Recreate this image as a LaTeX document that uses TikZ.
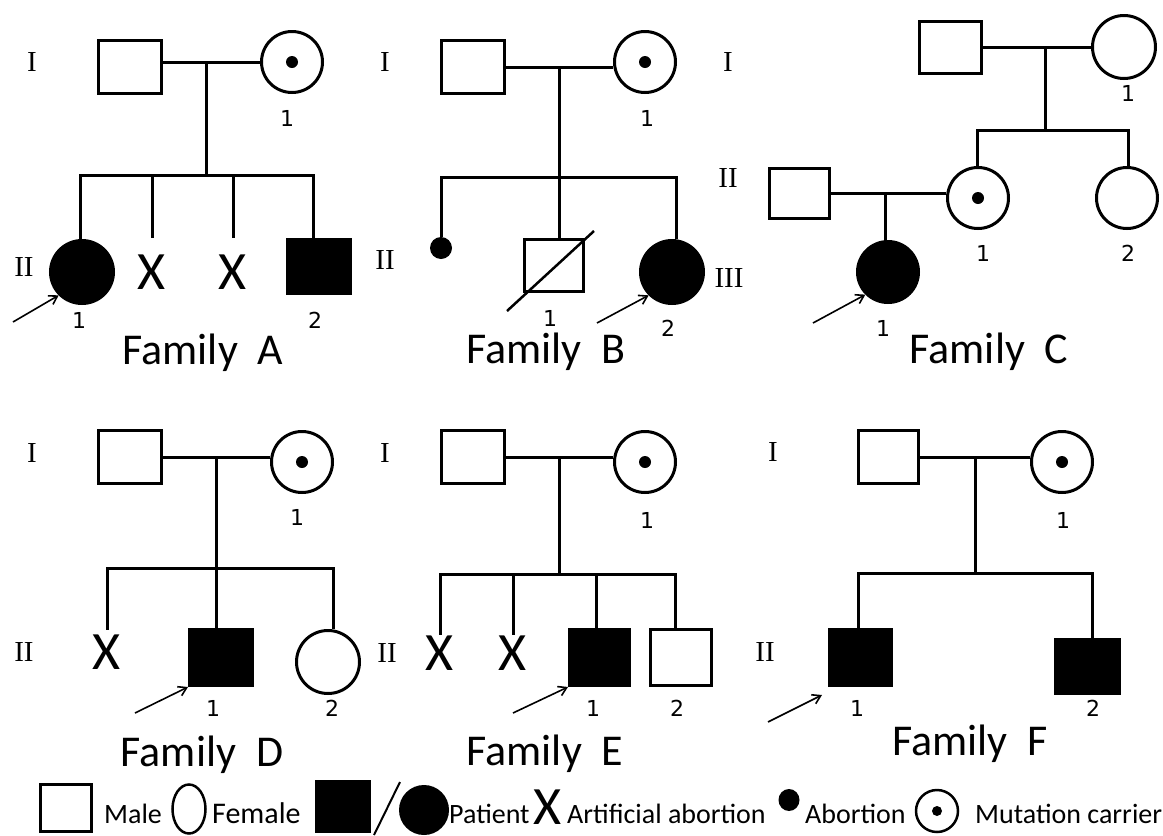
\documentclass[tikz,border=0pt]{standalone}
\usepackage{fontspec}
\newfontfamily\calfont{Carlito}
\newfontfamily\romfont{Liberation Serif}
\newfontfamily\digfont{DejaVu Sans}
\usetikzlibrary{arrows.meta,calc,shapes.geometric}
\tikzset{
  male/.style={draw,line width=3pt,rectangle,minimum width=63pt,minimum height=53pt,inner sep=0pt},
  fem/.style={draw,line width=3pt,circle,minimum size=61pt,inner sep=0pt},
  carrier/.style={fem,path picture={\fill[black] (path picture bounding box.center) circle (6pt);}},
  aff/.style={fill=black},
  abortnode/.style={circle,fill=black,minimum size=22pt,inner sep=0pt},
  xmark/.style={font=\calfont\fontsize{54}{54}\selectfont,inner sep=0pt},
  gen/.style={font=\romfont\fontsize{29}{29}\selectfont,inner sep=0pt},
  num/.style={font=\digfont\fontsize{22}{22}\selectfont,inner sep=0pt},
  famlabel/.style={font=\calfont\fontsize{44}{44}\selectfont,anchor=base,inner sep=0pt},
  leg/.style={font=\calfont\fontsize{28}{28}\selectfont,anchor=base west,inner sep=0pt},
  link/.style={line width=3pt,line join=miter},
  proband/.style={line width=1.6pt,-{Straight Barb[length=8pt,width=10pt]}},
}
\begin{document}
\begin{tikzpicture}[x=1pt,y=-1pt]
\useasboundingbox[fill=white] (0,0) rectangle (1163,836);

% ---------------- Family A ----------------
\node[male] (A-I1) at (130,67) {};
\node[carrier] (A-I2) at (292,62) {};
\coordinate (A-m) at (206,62);
\coordinate (A-s) at (206,175);
\draw[link] (A-I1.east |- A-m) -- (A-I2.west);
\draw[link] (A-m) -- (A-s);
\node[fem,aff,minimum size=63pt] (A-II1) at (82,272) {};
\node[xmark,minimum height=68pt] (A-X1) at (152,272) {X};
\node[xmark,minimum height=68pt] (A-X2) at (233,272) {X};
\node[male,aff,minimum height=54pt] (A-II2) at (319,266.5) {};
\coordinate (A-s1) at (80,175);
\coordinate (A-s4) at (313,175);
\draw[link] (A-s1 |- A-II1.north) -- (A-s1) -- (A-s4) -- (A-s4 |- A-II2.north);
\draw[link] (A-X1.north |- A-s) -- (A-X1.north);
\draw[link] (A-X2.north |- A-s) -- (A-X2.north);
\node[gen] (A-g1) at (32,62) {I};
\node[gen] (A-g2) at (24,267) {II};
\node[num] (A-n0) at (287,118) {1};
\node[num] (A-n1) at (79,320) {1};
\node[num] (A-n2) at (315,320) {2};
\coordinate (A-p) at (13,322);
\draw[proband] (A-p) -- (A-II1.225);
\node[famlabel] (A-t) at (203,364) {Family~~A};

% ---------------- Family B ----------------
\node[male] (B-I1) at (473,67) {};
\node[carrier] (B-I2) at (645,62) {};
\coordinate (B-m) at (559,67);
\coordinate (B-s) at (559,177);
\draw[link] (B-I1.east) -- (B-I1.east -| B-I2.west);
\draw[link] (B-m) -- (B-s);
\node[abortnode] (B-II1) at (441,248) {};
\node[male,minimum width=59pt,minimum height=52pt] (B-II2) at (554,265.5) {};
\node[fem,aff,minimum size=63pt] (B-II3) at (672,272) {};
\coordinate (B-s1) at (441,177);
\coordinate (B-s3) at (676,177);
\draw[link] (B-s1 |- B-II1.north) -- (B-s1) -- (B-s3) -- (B-s3 |- B-II3.north);
\draw[link] (B-s) -- (B-s |- B-II2.north);
\draw[line width=2.5pt] ($(B-II2.south west)+(-16,18)$) -- ($(B-II2.north east)+(9,-7)$);
\node[gen] (B-g1) at (385,62) {I};
\node[gen] (B-g2) at (385,260) {II};
\node[gen] (C-g1) at (728,62) {I};
\node[gen] (C-g2) at (728,178) {II};
\node[gen] (C-g3) at (729,278) {III};
\node[num] (B-n0) at (647,118) {1};
\node[num] (B-n1) at (550,318) {1};
\node[num] (B-n2) at (668,328) {2};
\coordinate (B-p) at (597,323);
\draw[proband] (B-p) -- (B-II3.225);
\node[famlabel] (B-t) at (546,363) {Family~~B};

% ---------------- Family C ----------------
\node[male,minimum width=62pt,minimum height=52pt] (C-I1) at (950.5,47.5) {};
\node[fem,minimum size=63pt] (C-I2) at (1124,47) {};
\coordinate (C-m) at (1045,47);
\coordinate (C-s) at (1045,130);
\draw[link] (C-I1.east) -- (C-I1.east -| C-I2.west);
\draw[link] (C-m) -- (C-s);
\node[carrier] (C-II1) at (978,198) {};
\node[fem] (C-II2) at (1127,198) {};
\coordinate (C-s1) at (977,130);
\coordinate (C-s2) at (1128,130);
\draw[link] (C-s1 |- C-II1.north) -- (C-s1) -- (C-s2) -- (C-s2 |- C-II2.north);
\node[male,minimum width=60pt,minimum height=50pt] (C-II0) at (799.5,193.5) {};
\coordinate (C-m2) at (885,193.5);
\draw[link] (C-II0.east) -- (C-II0.east -| C-II1.west);
\node[fem,aff] (C-III1) at (888,272) {};
\draw[link] (C-m2) -- (C-m2 |- C-III1.north);
\node[num] (C-n0) at (1128,93) {1};
\node[num] (C-n1) at (983,253) {1};
\node[num] (C-n2) at (1128,253) {2};
\node[num] (C-n3) at (883,328) {1};
\coordinate (C-p) at (813,323);
\draw[proband] (C-p) -- (C-III1.225);
\node[famlabel] (C-t) at (989,363) {Family~~C};

% ---------------- Family D ----------------
\node[male] (D-I1) at (130,457) {};
\node[carrier] (D-I2) at (302,462) {};
\coordinate (D-m) at (216,457);
\coordinate (D-s) at (216,568);
\draw[link] (D-I1.east) -- (D-I1.east -| D-I2.west);
\draw[link] (D-m) -- (D-s);
\node[xmark,minimum height=44pt] (D-X) at (107,652) {X};
\node[male,aff,minimum height=56pt] (D-II1) at (221,657.5) {};
\node[fem,minimum size=63pt] (D-II2) at (328,662) {};
\coordinate (D-s3) at (333,568);
\draw[link] (D-X.north) -- (D-X.north |- D-s) -- (D-s3) -- (D-s3 |- D-II2.north);
\draw[link] (D-s) -- (D-s |- D-II1.north);
\node[gen] (D-g1) at (32,453) {I};
\node[gen] (D-g2) at (24,652) {II};
\node[num] (D-n0) at (297,517) {1};
\node[num] (D-n1) at (213,708) {1};
\node[num] (D-n2) at (332,708) {2};
\coordinate (D-p) at (135,713);
\draw[proband] (D-p) -- (D-II1.south west);
\node[famlabel] (D-t) at (202,766) {Family~~D};

% ---------------- Family E ----------------
\node[male] (E-I1) at (473,457) {};
\node[carrier] (E-I2) at (645,462) {};
\coordinate (E-m) at (559,457);
\coordinate (E-s) at (559,574);
\draw[link] (E-I1.east) -- (E-I1.east -| E-I2.west);
\draw[link] (E-m) -- (E-s);
\node[xmark,minimum height=36pt] (E-X1) at (440,653) {X};
\node[xmark,minimum height=36pt] (E-X2) at (513,653) {X};
\node[male,aff,minimum width=60pt,minimum height=56pt] (E-II1) at (599.5,657.5) {};
\node[male,minimum width=61pt,minimum height=56pt] (E-II2) at (681,657.5) {};
\coordinate (E-s3) at (596,574);
\coordinate (E-s4) at (675,574);
\draw[link] (E-X1.north) -- (E-X1.north |- E-s) -- (E-s4) -- (E-s4 |- E-II2.north);
\draw[link] (E-X2.north |- E-s) -- (E-X2.north);
\draw[link] (E-s3) -- (E-s3 |- E-II1.north);
\node[gen] (E-g1) at (385,453) {I};
\node[gen] (E-g2) at (387,653) {II};
\node[num] (E-n0) at (647,520) {1};
\node[num] (E-n1) at (593,708) {1};
\node[num] (E-n2) at (677,708) {2};
\coordinate (E-p) at (513,713);
\draw[proband] (E-p) -- (E-II1.south west);
\node[famlabel] (E-t) at (545,765) {Family~~E};

% ---------------- Family F ----------------
\node[male,minimum width=60pt] (F-I1) at (888.5,457) {};
\node[carrier] (F-I2) at (1062,462) {};
\coordinate (F-m) at (975,457);
\coordinate (F-s) at (975,573);
\draw[link] (F-I1.east) -- (F-I1.east -| F-I2.west);
\draw[link] (F-m) -- (F-s);
\node[male,aff,minimum width=62pt,minimum height=56pt] (F-II1) at (860.5,657.5) {};
\node[male,aff,minimum width=64pt,minimum height=54pt] (F-II2) at (1087.5,666.5) {};
\coordinate (F-s1) at (858,573);
\coordinate (F-s2) at (1092,573);
\draw[link] (F-s1 |- F-II1.north) -- (F-s1) -- (F-s2) -- (F-s2 |- F-II2.north);
\node[gen] (F-g1) at (773,452) {I};
\node[gen] (F-g2) at (765,652) {II};
\node[num] (F-n0) at (1063,520) {1};
\node[num] (F-n1) at (857,708) {1};
\node[num] (F-n2) at (1093,708) {2};
\coordinate (F-p) at (768,722);
\coordinate (F-pt) at (822,695);
\draw[proband] (F-p) -- (F-pt);
\node[famlabel] (F-t) at (970,755) {Family~~F};

% ---------------- Legend ----------------
\node[male,line width=2.5pt,minimum width=51pt,minimum height=47pt] (L-male) at (66,808) {};
\node[leg] (L-t1) at (104,823) {Male};
\node[draw,ellipse,line width=2.5pt,minimum width=33pt,minimum height=49pt,inner sep=0pt] (L-fem) at (189,809) {};
\node[leg,font=\calfont\fontsize{30}{30}\selectfont] (L-t2) at (212,823) {Female};
\node[rectangle,aff,minimum width=56pt,minimum height=53pt,inner sep=0pt] (L-pat1) at (343,806.5) {};
\coordinate (L-sl1) at (374,835);
\coordinate (L-sl2) at (400,782);
\draw[line width=2pt] (L-sl1) -- (L-sl2);
\node[circle,aff,minimum size=50pt,inner sep=0pt] (L-pat2) at (424,810) {};
\node[leg] (L-t3) at (449,823) {Patient};
\node[xmark,font=\calfont\fontsize{54}{54}\selectfont] (L-X) at (548,807) {X};
\node[leg] (L-t4) at (567,823) {Artificial abortion};
\node[ellipse,aff,minimum width=21pt,minimum height=22pt,inner sep=0pt] (L-ab) at (789,800) {};
\node[leg] (L-t5) at (805,823) {Abortion};
\node[draw,circle,line width=2.5pt,minimum size=42pt,inner sep=0pt,
      path picture={\fill[black] (path picture bounding box.center) circle (5pt);}] (L-car) at (937,811) {};
\node[leg] (L-t6) at (975,823) {Mutation carrier};
\end{tikzpicture}
\end{document}
